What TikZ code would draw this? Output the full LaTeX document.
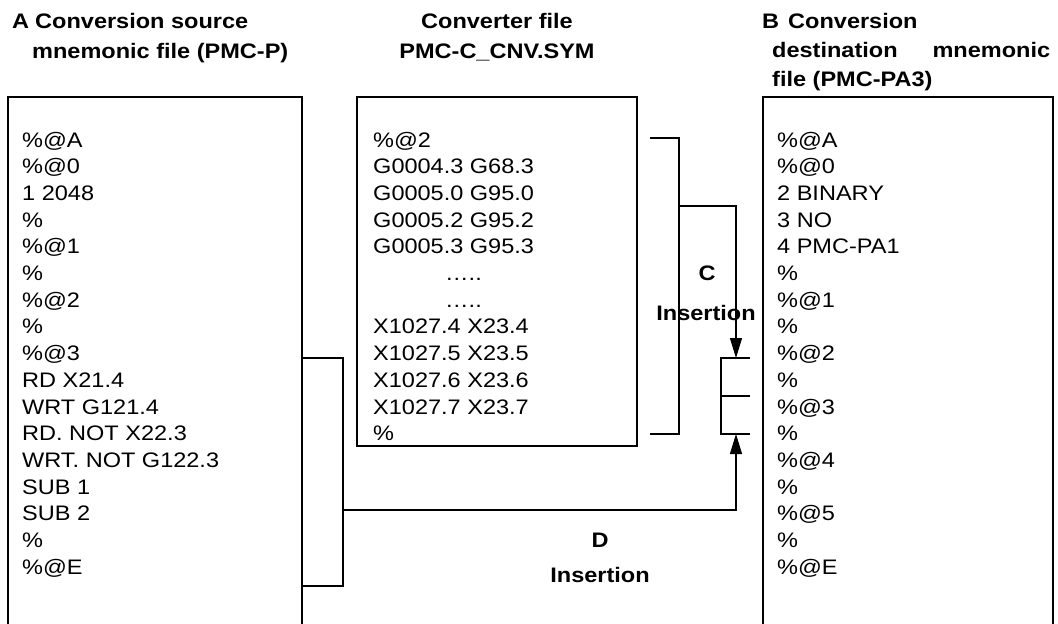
\documentclass[tikz,border=0pt]{standalone}
\usepackage{fontspec}
\setmainfont{Liberation Sans}[FakeStretch=1.12]
\usetikzlibrary{arrows.meta}
\begin{document}
\begin{tikzpicture}[x=1pt,y=-1pt,
  box/.style={line width=1.7pt},
  conn/.style={line width=1.2pt},
  arr/.style={conn,-{Triangle[length=20pt,width=12pt]}},
  body/.style={anchor=base west,inner sep=0pt,font=\fontsize{21}{26}\selectfont},
  ttl/.style={inner sep=0pt,font=\fontsize{21}{26}\selectfont\bfseries},
  lbl/.style={anchor=base,inner sep=0pt,font=\fontsize{21}{26}\selectfont\bfseries}]
\useasboundingbox (0,0) rectangle (1058,624);
% boxes
\draw[box] (8,640) -- (8,97) -- (302,97) -- (302,640);
\draw[box] (357,97) rectangle (637,446);
\draw[box] (763,640) -- (763,97) -- (1053,97) -- (1053,640);
% titles
\node[ttl,anchor=base west] (tA1) at (12,28) {A};
\node[ttl,anchor=base west] (tA2) at (35,28) {Conversion source};
\node[ttl,anchor=base west] (tA3) at (32,58) {mnemonic file (PMC-P)};
\node[ttl,anchor=base] (tC1) at (497,28) {Converter file};
\node[ttl,anchor=base] (tC2) at (497,58) {PMC-C\_CNV.SYM};
\node[ttl,anchor=base west] (tB1) at (762,28) {B};
\node[ttl,anchor=base west] (tB2) at (788,28) {Conversion};
\node[ttl,anchor=base west] (tB3) at (772,57) {\hbox to 278pt{destination\hfill mnemonic}};
\node[ttl,anchor=base west] (tB4) at (772,86) {file (PMC-PA3)};
% texts of box A
\foreach \t [count=\i] in {{\%@A},{\%@0},{1 2048},{\%},{\%@1},{\%},{\%@2},{\%},{\%@3},{RD X21.4},{WRT G121.4},{RD. NOT X22.3},{WRT. NOT G122.3},{SUB 1},{SUB 2},{\%},{\%@E}}
  \node[body] (a\i) at (22,{147+(\i-1)*26.7}) {\t};
% texts of converter box
\foreach \t [count=\i] in {{\%@2},{G0004.3 G68.3},{G0005.0 G95.0},{G0005.2 G95.2},{G0005.3 G95.3},{},{},{X1027.4 X23.4},{X1027.5 X23.5},{X1027.6 X23.6},{X1027.7 X23.7},{\%}}
  \node[body] (c\i) at (373,{147+(\i-1)*26.7}) {\t};
\node[body] (dots1) at (445,{147+5*26.7}) {…..};
\node[body] (dots2) at (445,{147+6*26.7}) {…..};
% texts of box B
\foreach \t [count=\i] in {{\%@A},{\%@0},{2 BINARY},{3 NO},{4 PMC-PA1},{\%},{\%@1},{\%},{\%@2},{\%},{\%@3},{\%},{\%@4},{\%},{\%@5},{\%},{\%@E}}
  \node[body] (b\i) at (777,{147+(\i-1)*26.7}) {\t};
% bracket from A and D insertion
\coordinate (aTop) at (302,358);
\coordinate (aTopR) at (343,358);
\coordinate (aBot) at (302,586);
\coordinate (aBotR) at (343,586);
\coordinate (dStart) at (343,510);
\coordinate (dCorner) at (736,510);
\coordinate (slotBot) at (736,434);
\draw[conn] (aTop) -- (aTopR) -- (aBotR) -- (aBot);
\draw[arr] (dStart) -- (dCorner) -- (slotBot);
% bracket from converter and C insertion
\coordinate (cTop) at (650,138);
\coordinate (cTopR) at (679,138);
\coordinate (cBot) at (650,434);
\coordinate (cBotR) at (679,434);
\coordinate (cBranch) at (679,206);
\coordinate (cCorner) at (736,206);
\coordinate (slotTop) at (736,358);
\draw[conn] (cTop) -- (cTopR) -- (cBotR) -- (cBot);
\draw[arr] (cBranch) -- (cCorner) -- (slotTop);
% insertion slot
\draw[conn] (750,358) -- (721,358) -- (721,434) -- (750,434);
\draw[conn] (721,396) -- (750,396);
% labels
\node[lbl] (lC) at (707,280) {C};
\node[lbl] (lCi) at (706,320) {Insertion};
\node[lbl] (lD) at (600,547) {D};
\node[lbl] (lDi) at (600,582) {Insertion};
\end{tikzpicture}
\end{document}
